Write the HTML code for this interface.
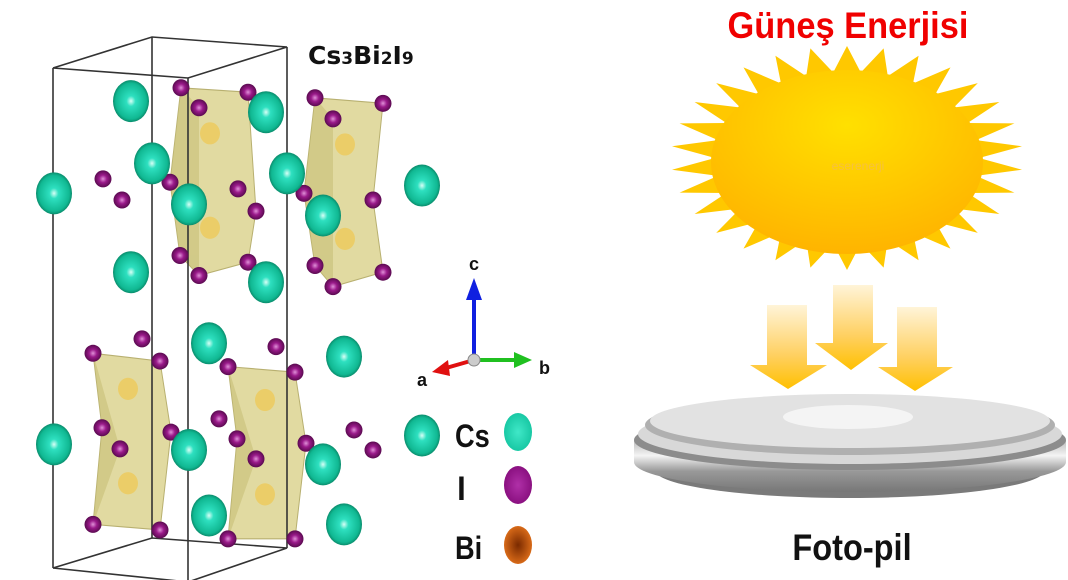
<!DOCTYPE html>
<html><head><meta charset="utf-8"><style>
html,body{margin:0;padding:0;background:#fff;}
svg{display:block;}
</style></head><body>
<svg id="s" width="1068" height="580" viewBox="0 0 1068 580" xmlns="http://www.w3.org/2000/svg">
<defs>
<radialGradient id="teal" cx="0.5" cy="0.5" r="0.5">
<stop offset="0" stop-color="#d8fff6"/><stop offset="0.25" stop-color="#2ee0c0"/><stop offset="0.85" stop-color="#10b892"/><stop offset="1" stop-color="#0a8c6c"/></radialGradient>
<radialGradient id="pur" cx="0.5" cy="0.5" r="0.5">
<stop offset="0" stop-color="#e090d8"/><stop offset="0.45" stop-color="#9a1a8a"/><stop offset="1" stop-color="#5a0a50"/></radialGradient>
<radialGradient id="tealL" cx="0.5" cy="0.5" r="0.5"><stop offset="0" stop-color="#40e8c8"/><stop offset="1" stop-color="#18c8a4"/></radialGradient>
<radialGradient id="purL" cx="0.5" cy="0.5" r="0.5"><stop offset="0" stop-color="#b030a8"/><stop offset="1" stop-color="#8a1080"/></radialGradient>
<radialGradient id="biL" cx="0.5" cy="0.5" r="0.5"><stop offset="0" stop-color="#7a2a00"/><stop offset="1" stop-color="#d86a18"/></radialGradient>
<radialGradient id="sunG" cx="0.5" cy="0.3" r="0.7"><stop offset="0" stop-color="#ffe000"/><stop offset="1" stop-color="#ffb400"/></radialGradient>
<linearGradient id="arr" x1="0" y1="0" x2="0" y2="1"><stop offset="0" stop-color="#fff4d8"/><stop offset="0.6" stop-color="#ffd060"/><stop offset="1" stop-color="#ffc000"/></linearGradient>
<linearGradient id="disc" x1="0" y1="0" x2="0" y2="1"><stop offset="0" stop-color="#bbb"/><stop offset="0.3" stop-color="#f4f4f4"/><stop offset="0.6" stop-color="#999"/><stop offset="1" stop-color="#777"/></linearGradient>
</defs>
<g transform="scale(1,1.111)">
<g fill="#dcd490" fill-opacity="0.85" stroke="#b8b070" stroke-width="1">
<polygon points="181,79 248,83 256,190 248,236 199,248 180,230 170,164"/>
<polygon points="315,88 383,93 373,180 383,245 333,258 315,239 304,174"/>
<polygon points="93,318 160,325 171,389 160,477 93,472 102,385"/>
<polygon points="228,330 295,335 306,399 295,485 228,485 237,395"/>
</g>
<g fill="#c8c078" opacity="0.6">
<polygon points="181,79 199,97 199,248 180,230 170,164"/>
<polygon points="315,88 333,107 333,258 315,239 304,174"/>
<polygon points="93,318 102,385 93,472 120,404"/>
<polygon points="228,330 237,395 228,485 256,413"/>
</g>
<g fill="#f0c850" opacity="0.7">
<circle cx="210" cy="120" r="10"/><circle cx="210" cy="205" r="10"/><circle cx="345" cy="130" r="10"/><circle cx="345" cy="215" r="10"/>
<circle cx="128" cy="350" r="10"/><circle cx="128" cy="435" r="10"/><circle cx="265" cy="360" r="10"/><circle cx="265" cy="445" r="10"/>
</g>
</g>
<g fill="none" stroke="#333" stroke-width="1.6">
<polyline points="53,68 152,37 287,47 188,78 53,68"/>
<line x1="53" y1="68" x2="53" y2="568"/><line x1="188" y1="78" x2="188" y2="585"/>
<line x1="287" y1="47" x2="287" y2="548"/><line x1="152" y1="37" x2="152" y2="538"/>
<polyline points="53,568 152,538 287,548 188,582"/>
<line x1="53" y1="568" x2="188" y2="582"/>
</g>
<g id="atoms"></g>
<text x="308" y="64" font-family="DejaVu Sans" font-weight="bold" font-size="25" fill="#111">Cs<tspan font-size="17">3</tspan>Bi<tspan font-size="17">2</tspan>I<tspan font-size="17">9</tspan></text>
<!-- axes -->
<line x1="474" y1="360" x2="474" y2="298" stroke="#1020e0" stroke-width="4"/>
<polygon points="466,300 482,300 474,278" fill="#1020e0"/>
<line x1="474" y1="360" x2="516" y2="360" stroke="#20c020" stroke-width="4"/>
<polygon points="514,352 514,368 532,360" fill="#20c020"/>
<line x1="474" y1="360" x2="446" y2="368" stroke="#e01010" stroke-width="4"/>
<polygon points="448,360 450,376 432,372" fill="#e01010"/>
<circle cx="474" cy="360" r="6" fill="#ccc" stroke="#888"/>
<g font-family="Liberation Sans" font-weight="bold" fill="#111">
<text x="469" y="270" font-size="18">c</text>
<text x="539" y="374" font-size="18">b</text>
<text x="417" y="386" font-size="18">a</text>
<text x="455" y="447" font-size="32" transform="translate(455,0) scale(0.85,1) translate(-455,0)">Cs</text>
<text x="457" y="500" font-size="32">l</text>
<text x="455" y="559" font-size="32" transform="translate(455,0) scale(0.85,1) translate(-455,0)">Bi</text>
</g>
<ellipse cx="518" cy="432" rx="14" ry="19" fill="url(#tealL)"/>
<ellipse cx="518" cy="485" rx="14" ry="19" fill="url(#purL)"/>
<ellipse cx="518" cy="545" rx="14" ry="19" fill="url(#biL)"/>
<!-- right side -->
<text x="848" y="38" text-anchor="middle" font-family="Liberation Sans" font-weight="bold" font-size="37" fill="#f00000" transform="translate(848,0) scale(0.93,1) translate(-848,0)">Güneş Enerjisi</text>
<polygon id="star" fill="#ffc800"/>
<ellipse cx="847" cy="162" rx="136" ry="92" fill="url(#sunG)"/>
<text x="858" y="170" text-anchor="middle" font-family="Liberation Sans" font-size="12" fill="#f6c040">eserenerji</text>
<g fill="url(#arr)">
<polygon points="767,305 807,305 807,365 827,365 788,389 750,365 767,365"/>
<polygon points="897,307 937,307 937,367 953,367 915,391 878,367 897,367"/>
<polygon points="833,285 873,285 873,343 888,343 851,370 815,343 833,343"/>
</g>
<ellipse cx="850" cy="470" rx="195" ry="28" fill="#7a7a7a"/>
<path d="M634,440 L634,462 A216,30 0 0 0 1066,462 L1066,440 Z" fill="url(#disc)"/>
<ellipse cx="850" cy="440" rx="216" ry="30" fill="#8c8c8c"/>
<ellipse cx="850" cy="434" rx="212" ry="30" fill="#d8d8d8"/>
<ellipse cx="850" cy="425" rx="205" ry="30" fill="#b0b0b0"/>
<ellipse cx="850" cy="421" rx="200" ry="27" fill="#e2e2e2"/>
<ellipse cx="848" cy="417" rx="65" ry="12" fill="#f4f4f4"/>
<text x="852" y="560" text-anchor="middle" font-family="Liberation Sans" font-weight="bold" font-size="37" fill="#111" transform="translate(852,0) scale(0.88,1) translate(-852,0)">Foto-pil</text>
</svg>
<script>
var ns="http://www.w3.org/2000/svg";
var T=[[131,91],[266,101],[152,147],[54,174],[287,156],[189,184],[422,167],[323,194],[131,245],[266,254],[209,309],[344,321],[54,400],[189,405],[422,392],[323,418],[209,464],[344,472]];
var P=[[181,79],[248,83],[199,97],[315,88],[383,93],[333,107],[103,161],[122,180],[170,164],[238,170],[256,190],[304,174],[373,180],[180,230],[248,236],[199,248],[315,239],[383,245],[333,258],[142,305],[93,318],[160,325],[276,312],[228,330],[295,335],[219,377],[102,385],[171,389],[120,404],[237,395],[306,399],[256,413],[354,387],[373,405],[93,472],[160,477],[228,485],[295,485]];
var g=document.getElementById("atoms");
P.forEach(function(p){var c=document.createElementNS(ns,"circle");c.setAttribute("cx",p[0]);c.setAttribute("cy",p[1]*1.111);c.setAttribute("r",8.5);c.setAttribute("fill","url(#pur)");g.appendChild(c);});
T.forEach(function(p){var c=document.createElementNS(ns,"ellipse");c.setAttribute("cx",p[0]);c.setAttribute("cy",p[1]*1.111);c.setAttribute("rx",18);c.setAttribute("ry",21);c.setAttribute("fill","url(#teal)");g.appendChild(c);});
var pts=[],n=30,cx=847,cy=158;
for(var i=0;i<2*n;i++){var a=Math.PI*i/n-Math.PI/2;var o=(i%2==0);var rx=o?176:132,ry=o?112:86;pts.push((cx+rx*Math.cos(a)).toFixed(1)+","+(cy+ry*Math.sin(a)).toFixed(1));}
document.getElementById("star").setAttribute("points",pts.join(" "));
</script>
</body></html>
